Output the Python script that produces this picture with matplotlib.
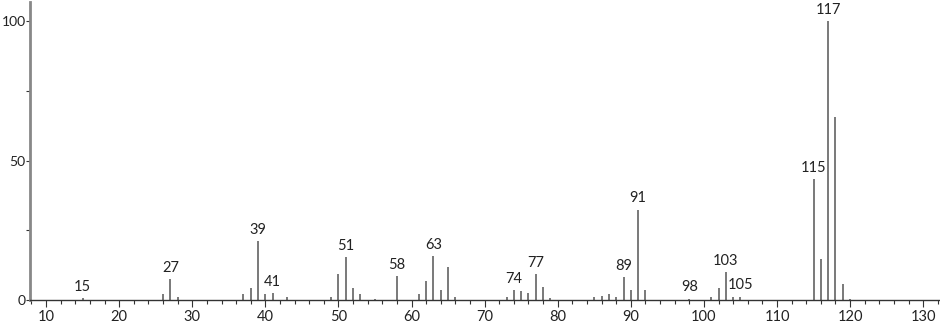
import matplotlib
matplotlib.use("Agg")
import matplotlib.pyplot as plt
from matplotlib.ticker import MultipleLocator, FixedLocator

plt.rcParams["font.family"] = ["Lato", "DejaVu Sans"]

mz = [15, 26, 27, 28, 37, 38, 39, 40, 41, 43, 49, 50, 51, 52, 53, 55, 58,
      61, 62, 63, 64, 65, 66, 73, 74, 75, 76, 77, 78, 79, 85, 86, 87, 88,
      89, 90, 91, 92, 98, 101, 102, 103, 104, 105, 115, 116, 117, 118, 119, 120]
intensity = [0.6, 2.2, 7.4, 1.1, 2.1, 4.4, 21.0, 2.3, 2.6, 1.0, 1.1, 9.3, 15.3, 4.4, 2.1, 0.5, 8.6,
             2.1, 6.8, 15.6, 3.6, 12.0, 1.1, 0.9, 3.6, 3.3, 2.5, 9.2, 4.7, 0.8, 1.0, 1.4, 2.1, 1.2,
             8.1, 3.6, 32.4, 3.6, 0.5, 1.0, 4.2, 9.9, 1.2, 1.2, 43.3, 14.6, 100.0, 65.8, 5.7, 0.5]
labeled = [15, 27, 39, 41, 51, 58, 63, 74, 77, 89, 91, 98, 103, 105, 115, 117]
xticks = [10, 20, 30, 40, 50, 60, 70, 80, 90, 100, 110, 120, 130]
yticks = [0, 50, 100]

fig = plt.figure(figsize=(9.4, 3.22), dpi=100)
ax = fig.add_axes([30/940, 22/322, 1 - 30/940, 1 - 22/322 - 0.005])

ax.vlines(mz, 0, intensity, colors="#555555", linewidth=1.1)
for m, v in zip(mz, intensity):
    if m in labeled:
        ax.text(m, v + 1.5, str(m), ha="center", va="bottom", fontsize=10.5, color="#222222")

ax.set_xlim(7.8, 132.3)
ax.set_ylim(0, 107)
ax.xaxis.set_major_locator(FixedLocator(xticks))
ax.xaxis.set_minor_locator(MultipleLocator(2))
ax.yaxis.set_major_locator(FixedLocator(yticks))
ax.yaxis.set_minor_locator(FixedLocator([25, 75]))
for s in ["top", "right"]:
    ax.spines[s].set_visible(False)
ax.spines["left"].set_color("#888888")
ax.spines["left"].set_linewidth(2)
ax.spines["bottom"].set_color("#333333")
ax.spines["bottom"].set_linewidth(1)
ax.tick_params(axis="x", which="major", length=5, width=0.8, color="#333333",
               labelsize=10.5, labelcolor="#222222", pad=2)
ax.tick_params(axis="x", which="minor", length=3, width=0.8, color="#333333")
ax.tick_params(axis="y", which="major", length=3, width=0.8, color="#333333",
               labelsize=10, labelcolor="#222222", pad=0)
ax.tick_params(axis="y", which="minor", length=3, width=0.8, color="#333333")
ax.patch.set_alpha(0)

fig.savefig("out.png", dpi=100)
